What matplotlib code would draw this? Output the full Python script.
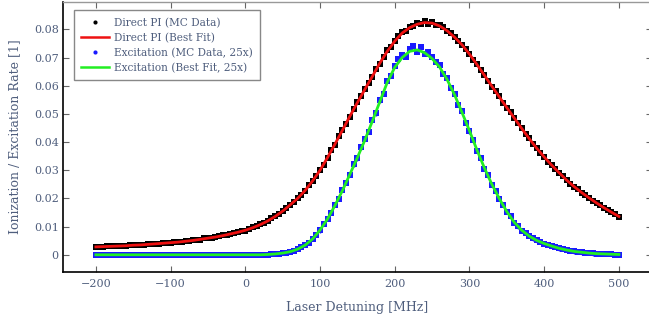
import numpy as np
import matplotlib
matplotlib.use("Agg")
import matplotlib.pyplot as plt
from matplotlib.lines import Line2D

# laser detuning grids [MHz]
detuning_mc = np.arange(-200, 505, 5)
detuning_fit = np.arange(-200, 510, 10)

# direct photoionization, MC data (every 5 MHz)
direct_mc = [
    0.0027, 0.0029, 0.0028, 0.0030, 0.0030, 0.0031, 0.0030, 0.0032, 0.0032, 0.0033,
    0.0034, 0.0034, 0.0036, 0.0036, 0.0037, 0.0038, 0.0039, 0.0040, 0.0042, 0.0042,
    0.0043, 0.0045, 0.0044, 0.0047, 0.0048, 0.0050, 0.0051, 0.0054, 0.0054, 0.0058,
    0.0059, 0.0061, 0.0064, 0.0065, 0.0069, 0.0071, 0.0073, 0.0078, 0.0080, 0.0085,
    0.0086, 0.0093, 0.0097, 0.0101, 0.0108, 0.0113, 0.0119, 0.0129, 0.0137, 0.0145,
    0.0154, 0.0167, 0.0178, 0.0188, 0.0202, 0.0213, 0.0226, 0.0247, 0.0263, 0.0279,
    0.0302, 0.0320, 0.0343, 0.0372, 0.0391, 0.0420, 0.0444, 0.0465, 0.0490, 0.0519,
    0.0542, 0.0562, 0.0589, 0.0608, 0.0631, 0.0660, 0.0678, 0.0703, 0.0725, 0.0738,
    0.0757, 0.0776, 0.0789, 0.0795, 0.0810, 0.0811, 0.0822, 0.0819, 0.0828, 0.0820,
    0.0826, 0.0815, 0.0814, 0.0807, 0.0793, 0.0786, 0.0774, 0.0757, 0.0744, 0.0731,
    0.0713, 0.0692, 0.0677, 0.0654, 0.0639, 0.0616, 0.0596, 0.0581, 0.0562, 0.0539,
    0.0520, 0.0506, 0.0484, 0.0468, 0.0449, 0.0428, 0.0413, 0.0393, 0.0379, 0.0360,
    0.0348, 0.0331, 0.0317, 0.0306, 0.0290, 0.0279, 0.0266, 0.0252, 0.0241, 0.0233,
    0.0220, 0.0212, 0.0203, 0.0192, 0.0184, 0.0176, 0.0166, 0.0160, 0.0151, 0.0143,
    0.0135,
]

# direct photoionization, best fit (every 10 MHz)
direct_fit = [
    0.0028, 0.0029, 0.0030, 0.0031, 0.0032, 0.0034, 0.0035, 0.0037, 0.0039, 0.0041,
    0.0043, 0.0045, 0.0048, 0.0051, 0.0055, 0.0059, 0.0063, 0.0068, 0.0074, 0.0080,
    0.0087, 0.0096, 0.0107, 0.0120, 0.0136, 0.0155, 0.0177, 0.0200, 0.0228, 0.0262,
    0.0300, 0.0345, 0.0393, 0.0442, 0.0492, 0.0540, 0.0587, 0.0633, 0.0680, 0.0722,
    0.0758, 0.0787, 0.0806, 0.0818, 0.0824, 0.0822, 0.0812, 0.0795, 0.0772, 0.0745,
    0.0712, 0.0675, 0.0637, 0.0598, 0.0560, 0.0522, 0.0485, 0.0448, 0.0412, 0.0378,
    0.0347, 0.0318, 0.0291, 0.0265, 0.0242, 0.0221, 0.0202, 0.0184, 0.0167, 0.0151,
    0.0136,
]

# excitation (x25), MC data (every 5 MHz)
excit_mc = [
    0.0, 0.0, 0.0, 0.0, 0.0, 0.0, 0.0, 0.0, 0.0, 0.0,
    0.0, 0.0, 0.0, 0.0, 0.0, 0.0, 0.0, 0.0, 0.0, 0.0,
    0.0, 0.0, 0.0, 0.0, 0.0, 0.0, 0.0, 0.0, 0.0, 0.0,
    0.0, 0.0, 0.0, 0.0, 0.0, 0.0, 0.0, 0.0, 0.0, 0.0,
    0.0000, 0.0000, 0.0000, 0.0001, 0.0000, 0.0001, 0.0001, 0.0002, 0.0003, 0.0004,
    0.0006, 0.0008, 0.0011, 0.0015, 0.0020, 0.0027, 0.0035, 0.0043, 0.0057, 0.0071,
    0.0087, 0.0109, 0.0128, 0.0148, 0.0178, 0.0199, 0.0231, 0.0255, 0.0284, 0.0321,
    0.0342, 0.0381, 0.0410, 0.0436, 0.0478, 0.0502, 0.0548, 0.0571, 0.0616, 0.0636,
    0.0671, 0.0693, 0.0708, 0.0701, 0.0731, 0.0742, 0.0721, 0.0738, 0.0712, 0.0719,
    0.0701, 0.0684, 0.0672, 0.0641, 0.0628, 0.0592, 0.0571, 0.0531, 0.0509, 0.0468,
    0.0438, 0.0409, 0.0369, 0.0343, 0.0306, 0.0282, 0.0248, 0.0226, 0.0198, 0.0177,
    0.0152, 0.0136, 0.0114, 0.0101, 0.0086, 0.0077, 0.0066, 0.0058, 0.0051, 0.0045,
    0.0040, 0.0035, 0.0031, 0.0027, 0.0023, 0.0020, 0.0017, 0.0014, 0.0012, 0.0010,
    0.0009, 0.0007, 0.0006, 0.0005, 0.0004, 0.0004, 0.0003, 0.0002, 0.0002, 0.0001,
    0.0001,
]

# excitation (x25), best fit (every 10 MHz)
excit_fit = [
    0.0, 0.0, 0.0, 0.0, 0.0, 0.0, 0.0, 0.0, 0.0, 0.0,
    0.0, 0.0, 0.0, 0.0, 0.0, 0.0, 0.0, 0.0, 0.0, 0.0,
    0.0, 0.0, 0.0, 0.0001, 0.0003, 0.0006, 0.0011, 0.0020, 0.0034, 0.0056,
    0.0088, 0.0127, 0.0175, 0.0228, 0.0286, 0.0345, 0.0407, 0.0474, 0.0543, 0.0612,
    0.0665, 0.0700, 0.0722, 0.0727, 0.0717, 0.0696, 0.0666, 0.0622, 0.0568, 0.0505,
    0.0440, 0.0372, 0.0308, 0.0250, 0.0199, 0.0153, 0.0115, 0.0087, 0.0066, 0.0051,
    0.0040, 0.0031, 0.0023, 0.0017, 0.0012, 0.0009, 0.0006, 0.0004, 0.0003, 0.0002,
    0.0001,
]

xticks = [-200, -100, 0, 100, 200, 300, 400, 500]
yticks = [0, 0.01, 0.02, 0.03, 0.04, 0.05, 0.06, 0.07, 0.08]
ytick_labels = ['0', '0.01', '0.02', '0.03', '0.04', '0.05', '0.06', '0.07', '0.08']

text_col = '#4f5e7d'
red = '#ee1111'
green = '#22ee22'
blue = '#1a1aff'
plt.rcParams['font.family'] = ['DejaVu Serif']

fig = plt.figure(figsize=(6.49, 3.25), dpi=100)
ax = fig.add_axes([63 / 649, 53.3 / 325, 588.8 / 649, 270 / 325])

ax.errorbar(detuning_mc, direct_mc, yerr=0.0004, fmt='s', color='black', ms=4.2, mew=0,
            elinewidth=1.0, capsize=1.5, zorder=2)
ax.plot(detuning_fit, direct_fit, color=red, lw=2.0, zorder=3)
ax.errorbar(detuning_mc, excit_mc, yerr=0.0008, fmt='s', color=blue, ms=3.8, mew=0,
            elinewidth=1.0, capsize=1.5, zorder=2)
ax.plot(detuning_fit, excit_fit, color=green, lw=2.0, zorder=3)

ax.set_xlim(-244, 544)
ax.set_ylim(-0.006, 0.0898)
ax.set_xticks(xticks)
ax.set_xticklabels([str(t).replace('-', '\u2212') for t in xticks])
ax.set_yticks(yticks)
ax.set_yticklabels(ytick_labels)

ax.tick_params(direction='in', length=4, width=0.8, colors='#666666', labelcolor=text_col,
               labelsize=8, top=True, right=True)
ax.tick_params(axis='x', pad=5)
ax.tick_params(axis='y', pad=3)

for side in ['left', 'bottom']:
    ax.spines[side].set_color('black')
    ax.spines[side].set_linewidth(1.2)
for side in ['top', 'right']:
    ax.spines[side].set_color('#999999')
    ax.spines[side].set_linewidth(1.0)

ax.set_xlabel('Laser Detuning [MHz]', color=text_col, fontsize=9, labelpad=9)
ax.set_ylabel('Ionization / Excitation Rate [1]', color=text_col, fontsize=9, labelpad=9)

handles = [
    Line2D([], [], ls='none', marker='o', ms=3, mew=0, color='black'),
    Line2D([], [], color=red, lw=1.8),
    Line2D([], [], ls='none', marker='o', ms=3, mew=0, color=blue),
    Line2D([], [], color=green, lw=1.8),
]
labels = ['Direct PI (MC Data)', 'Direct PI (Best Fit)',
          'Excitation (MC Data, 25x)', 'Excitation (Best Fit, 25x)']
leg = ax.legend(handles, labels, loc='upper left', bbox_to_anchor=(0.0187, 0.969),
                fontsize=7.6, fancybox=False, framealpha=1, edgecolor='#888888',
                handlelength=2.6, handletextpad=0.5, borderpad=0.7, labelspacing=0.45,
                borderaxespad=0)
leg.get_frame().set_linewidth(1.0)
for t in leg.get_texts():
    t.set_color(text_col)

fig.savefig('out.png', dpi=100)
